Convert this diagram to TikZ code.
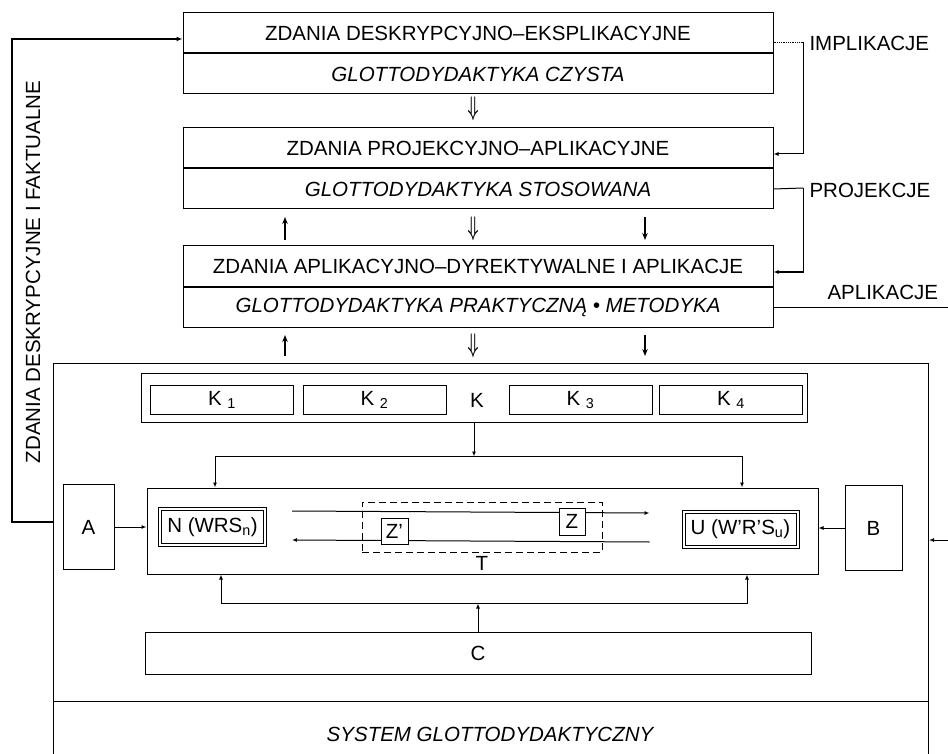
\documentclass[tikz,border=0pt]{standalone}
\usepackage{fontspec}
\setmainfont{Liberation Sans}
\usetikzlibrary{positioning,arrows.meta}

\tikzset{
        box/.style={draw, line width=1pt, inner sep=0pt},
        half/.style={box, minimum width=590pt, minimum height=40pt},
        kpart/.style={box, minimum width=143pt, minimum height=29pt},
        dbl/.style={box, inner sep=2pt},
        arr/.style={line width=1pt, -{Latex[length=5pt,width=4pt]}},
        flow/.style={line width=1.1pt, -{Stealth[length=7pt,width=5.5pt]}},
        dd/.style={inner sep=0pt, font=\fontsize{21}{24}\selectfont},
}
\newcommand{\ddarrow}{\scalebox{0.75}[1.3]{\boldmath$\Downarrow$}}

\begin{document}
\begin{tikzpicture}[x=1pt,y=-1pt,font=\fontsize{20.5}{24}\selectfont]
        \useasboundingbox (0,0) rectangle (948,754);
        \clip (0,0) rectangle (948,754);

        \node[half] (d1) at (478,33) {ZDANIA DESKRYPCYJNO--EKSPLIKACYJNE};
        \node[half, below=0pt of d1] (g1) {\itshape GLOTTODYDAKTYKA CZYSTA};
        \node[half] (d2) at (478,148) {ZDANIA PROJEKCYJNO--APLIKACYJNE};
        \node[half, below=0pt of d2] (g2) {\itshape GLOTTODYDAKTYKA STOSOWANA};
        \node[half] (d3) at (478,266) {ZDANIA APLIKACYJNO--DYREKTYWALNE I APLIKACJE};
        \node[half, below=0pt of d3] (g3) {\itshape GLOTTODYDAKTYKA PRAKTYCZNĄ • METODYKA};

        \node[dd] (dn0) at (473,109) {\ddarrow};
        \foreach \ya / \yb in {217/240,335/356} {
            \draw[flow] (285,\yb) -- (285,\ya);
            \draw[flow] (645,\ya) -- (645,\yb);
            \node[dd] (dn\ya) at (473,{(\ya+\yb)/2}) {\ddarrow};
        };

        \node[box, minimum width=875pt, minimum height=440pt, anchor=north west] (sys) at (53,363) {};
        \coordinate (sy) at (0,701);
        \draw[line width=1pt] (sys.west |- sy) -- (sys.east |- sy);
        \node (sysname) at (490,734) {\itshape SYSTEM GLOTTODYDAKTYCZNY};

        \node[box, minimum width=666pt, minimum height=49pt] (kbox) at (474,397.5) {};
        \foreach \n / \x in {1/222,2/374.5,3/580.5,4/731}
            \node[kpart] (k\n) at (\x,400) {K~\textsubscript{\n}};
        \node (klab) at (477,400) {K};

        \node[box, minimum width=671pt, minimum height=86pt] (tbox) at (482.5,531) {};
        \node[dbl, minimum width=108pt, minimum height=39pt] (nbox) at (212.5,527) {N (WRS\textsubscript{n})};
        \node[dbl, minimum width=117pt, minimum height=38pt] (ubox) at (740.5,529) {U (W'R'S\textsubscript{u})};
        \foreach \b in {nbox,ubox}
            \draw[line width=0.9pt] ([shift={(3.5pt,-3.5pt)}]\b.north west) rectangle ([shift={(-3.5pt,3.5pt)}]\b.south east);
        \draw[arr] ([xshift=25pt,yshift=16pt]nbox.east) -- ([xshift=-32pt,yshift=16pt]ubox.west);
        \draw[arr] ([xshift=-32pt,yshift=-13pt]ubox.west) -- ([xshift=25pt,yshift=-13pt]nbox.east);
        \node[draw, line width=1pt, dash pattern=on 7pt off 4pt, minimum width=240pt, minimum height=50pt] (zdash) at (482,527) {};
        \node[below=4pt of zdash, inner sep=0pt] (tlab) {T};
        \node[box, fill=white, minimum width=27pt, minimum height=26pt] (zp) at (394.5,531) {Z'};
        \node[box, fill=white, minimum width=26pt, minimum height=27pt] (z) at (572,521.5) {Z};

        \node[box, minimum width=51pt, minimum height=85pt] (abox) at (88.5,527) {A};
        \node[box, minimum width=57pt, minimum height=85pt] (bbox) at (873.5,528) {B};
        \draw[arr] (abox.east) -- (abox.east -| tbox.west);
        \draw[arr] (bbox.west) -- (bbox.west -| tbox.east);

        \node[box, minimum width=666pt, minimum height=42pt] (cbox) at (478,653) {C};

        \path (kbox.south) ++(0,34) coordinate (kj);
        \draw[arr] (kbox.south) -- (kj);
        \draw[arr] (kj) -| ([xshift=-267.5pt]tbox.north);
        \draw[arr] (kj) -| ([xshift=259.5pt]tbox.north);
        \path (cbox.north) ++(0,-28) coordinate (cj);
        \draw[arr] (cbox.north) -- (cj);
        \draw[arr] (cj) -| ([xshift=-261.5pt]tbox.south);
        \draw[arr] (cj) -| ([xshift=264.5pt]tbox.south);

        \coordinate (fb) at (12,522);
        \draw[line width=2pt, -{Latex[length=6pt,width=5pt]}] (sys.west |- fb) -- (fb) |- ([yshift=-6pt]d1.west);
        \node[rotate=90] (fbtext) at (33,272) {ZDANIA DESKRYPCYJNE I FAKTUALNE};

        \coordinate (im) at (803,42);
        \draw[line width=0.8pt, densely dotted] (im -| d1.east) -- (im);
        \draw[arr] (im) |- ([yshift=-6pt]d2.east);
        \node[anchor=west] (implik) at (806,43) {IMPLIKACJE};
        \coordinate (pr) at (803,188);
        \draw[line width=1pt] (g2.east) -- (pr);
        \draw[arr] (pr) |- ([yshift=-6pt]d3.east);
        \node[anchor=west] (projek) at (806,190) {PROJEKCJE};
        \coordinate (ap) at (948,306);
        \draw[line width=1pt] (g3.east) -- (g3.east -| ap);
        \node[anchor=west] (aplik) at (824,292) {APLIKACJE};
        \coordinate (rin) at (948,540);
        \draw[arr] (rin) -- (rin -| sys.east);
\end{tikzpicture}
\end{document}
